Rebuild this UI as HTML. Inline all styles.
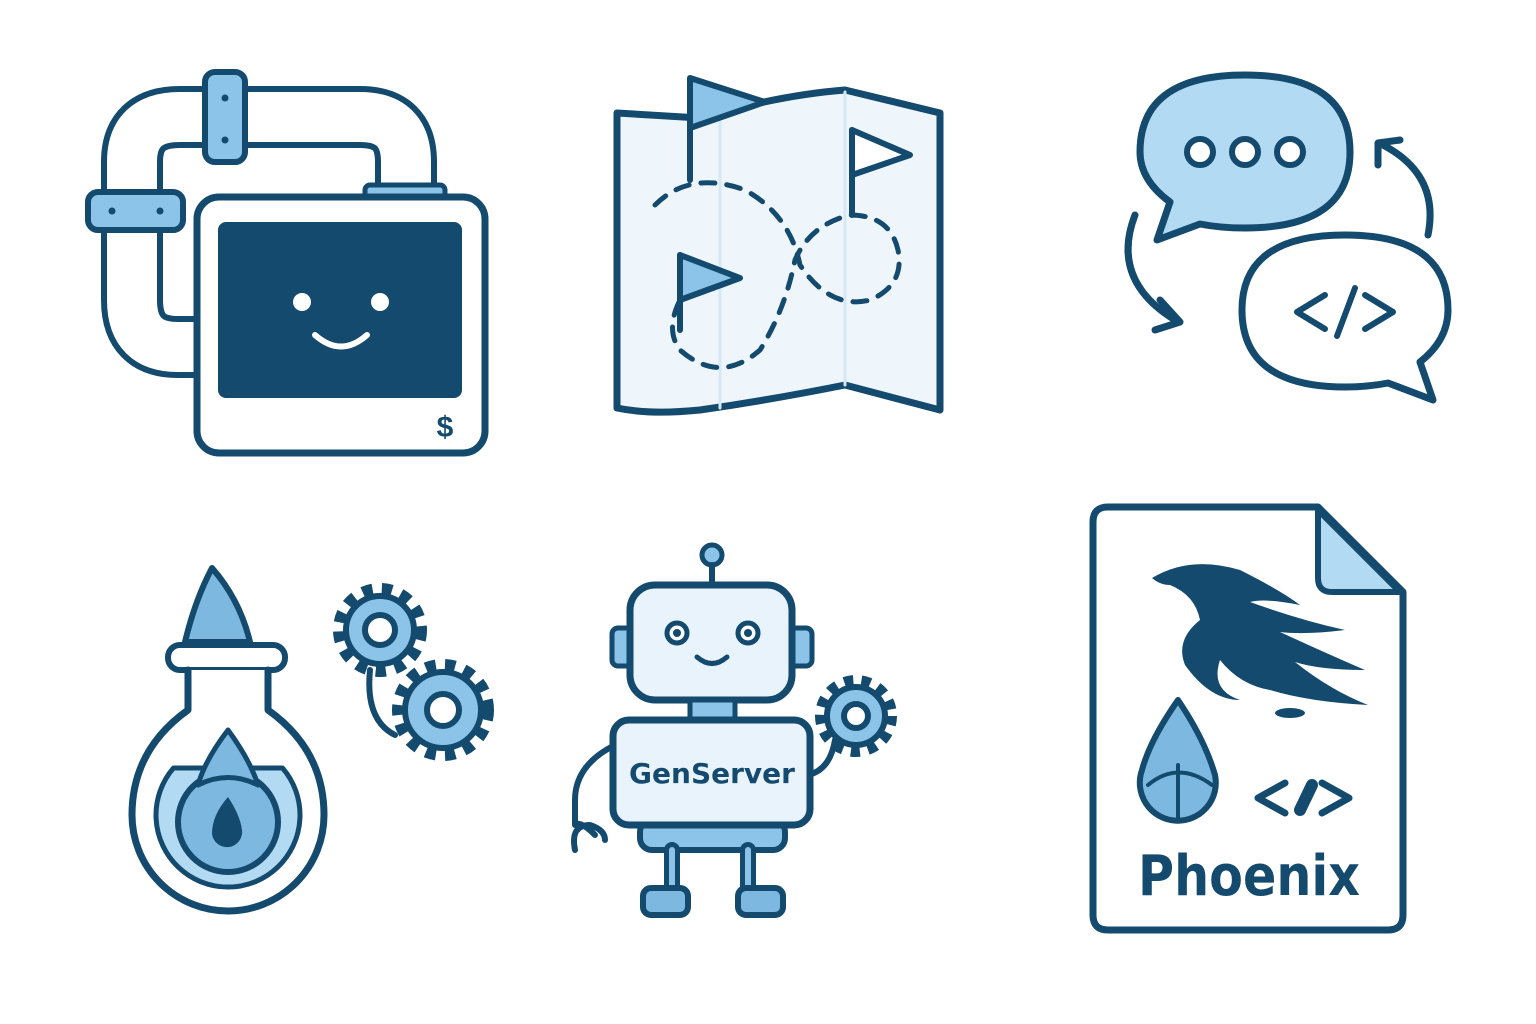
<!DOCTYPE html>
<html><head><meta charset="utf-8"><style>html,body{margin:0;padding:0;background:#fff}svg{display:block}</style></head>
<body>
<svg width="1536" height="1024" viewBox="0 0 1536 1024" xmlns="http://www.w3.org/2000/svg">
<g stroke="#134a6e" stroke-linecap="round" stroke-linejoin="round" fill="none">
<!-- Icon 1 -->
<path d="M200,347 H178 Q132,347 132,300 V162 Q132,117 180,117 H360 Q406,117 406,162 V205" stroke-width="62"/>
<path d="M200,347 H178 Q132,347 132,300 V162 Q132,117 180,117 H360 Q406,117 406,162 V205" stroke="#fff" stroke-width="50"/>
<rect x="205" y="72" width="40" height="90" rx="10" fill="#8cc3e8" stroke-width="6"/>
<circle cx="225" cy="98" r="3.5" fill="#134a6e" stroke="none"/><circle cx="225" cy="140" r="3.5" fill="#134a6e" stroke="none"/>
<rect x="88" y="192" width="95" height="38" rx="10" fill="#8cc3e8" stroke-width="6"/>
<circle cx="112" cy="211" r="3.5" fill="#134a6e" stroke="none"/><circle cx="160" cy="211" r="3.5" fill="#134a6e" stroke="none"/>
<rect x="365" y="185" width="80" height="14" rx="5" fill="#8cc3e8" stroke-width="5"/>
<rect x="197" y="197" width="288" height="256" rx="22" fill="#fff" stroke-width="7"/>
<rect x="218" y="222" width="244" height="176" rx="8" fill="#134a6e" stroke="none"/>
<circle cx="302" cy="302" r="9" fill="#fff" stroke="none"/><circle cx="380" cy="302" r="9" fill="#fff" stroke="none"/>
<path d="M315,335 Q341,358 367,335" stroke="#fff" stroke-width="6"/>
<text x="445" y="437" font-family="Liberation Sans,sans-serif" font-size="30" font-weight="bold" fill="#134a6e" stroke="none" text-anchor="middle">$</text>

<!-- Icon 2 map -->
<path d="M617,113 L700,118 Q780,95 845,90 L940,113 L940,410 L845,385 Q770,400 700,410 Q650,415 617,408 Z" fill="#eef6fc" stroke-width="7"/>
<path d="M720,118 V408" stroke="#d5e8f6" stroke-width="3"/><path d="M845,92 V385" stroke="#d5e8f6" stroke-width="3"/>
<path d="M690,180 V80" stroke-width="6"/><path d="M690,78 L765,102 L690,128 Z" fill="#8cc3e8" stroke-width="6"/>
<path d="M852,215 V130" stroke-width="6"/><path d="M852,130 L910,155 L852,175 Z" fill="#fff" stroke-width="6"/>
<path d="M680,330 V255" stroke-width="6"/><path d="M680,255 L740,278 L680,300 Z" fill="#8cc3e8" stroke-width="6"/>
<path d="M655,205 Q690,170 745,190 Q790,215 800,265 Q830,310 870,300 Q905,285 898,250 Q890,215 850,215 Q810,225 795,260 Q785,310 760,350 Q720,385 680,350 Q665,330 680,300" stroke-width="5" stroke-dasharray="14 12"/>

<!-- Icon 3 chat -->
<path d="M1170,202 Q1140,180 1140,152 Q1140,75 1245,75 Q1350,75 1350,152 Q1350,228 1245,228 Q1220,228 1200,224 L1157,240 Z" fill="#b3daf3" stroke-width="7"/>
<circle cx="1200" cy="152" r="13" fill="#fff" stroke-width="6"/><circle cx="1245" cy="152" r="13" fill="#fff" stroke-width="6"/><circle cx="1290" cy="152" r="13" fill="#fff" stroke-width="6"/>
<path d="M1420,362 Q1448,340 1448,310 Q1448,235 1345,235 Q1242,235 1242,310 Q1242,387 1345,387 Q1368,387 1388,383 L1433,400 Z" fill="#fff" stroke-width="7"/>
<path d="M1325,295 L1297,312 L1325,329 M1365,295 L1393,312 L1365,329 M1355,288 L1337,336" stroke-width="6"/>
<path d="M1135,215 Q1110,280 1175,320" stroke-width="7"/><path d="M1160,300 L1180,322 L1155,330" stroke-width="7"/>
<path d="M1428,235 Q1440,175 1383,145" stroke-width="7"/><path d="M1378,165 L1378,143 L1400,140" stroke-width="7"/>

<!-- Icon 4 flask -->
<path d="M185,642 Q195,600 212,568 Q240,600 250,642 Z" fill="#7cb8e0" stroke-width="6"/>
<rect x="168" y="645" width="117" height="25" rx="12" fill="#fff" stroke-width="6"/>
<path d="M188,670 V710 Q132,750 132,815 A96,96 0 0 0 324,815 Q324,750 268,710 V670" fill="#fff" stroke-width="7"/>
<path d="M173.5,768 H282.5 A72,72 0 1 1 173.5,768 Z" fill="#b3daf3" stroke-width="5"/>
<circle cx="228" cy="822" r="50" fill="#7cb8e0" stroke-width="6"/>
<path d="M228,730 Q205,760 198,785 Q228,770 258,785 Q250,760 228,730 Z" fill="#7cb8e0" stroke-width="5"/>
<path d="M228,797 Q240,815 242,830 A15,15 0 0 1 212,834 Q212,815 228,797 Z" fill="#134a6e" stroke="none"/>
<g transform="translate(380,630)"><circle r="40" stroke-width="14" stroke-dasharray="10 9" stroke-linecap="butt"/><circle r="34" fill="#8cc3e8" stroke-width="6"/><circle r="15" fill="#fff" stroke-width="6"/></g>
<g transform="translate(443,710)"><circle r="44" stroke-width="14" stroke-dasharray="10 9" stroke-linecap="butt"/><circle r="38" fill="#8cc3e8" stroke-width="6"/><circle r="16" fill="#fff" stroke-width="6"/></g>
<path d="M370,670 Q365,720 395,735" stroke-width="6"/>

<!-- Icon 5 robot -->
<circle cx="712" cy="555" r="10" fill="#8cc3e8" stroke-width="5"/><path d="M712,565 V585" stroke-width="6"/>
<rect x="612" y="628" width="22" height="38" rx="6" fill="#8cc3e8" stroke-width="5"/>
<rect x="790" y="628" width="22" height="38" rx="6" fill="#8cc3e8" stroke-width="5"/>
<rect x="630" y="585" width="162" height="115" rx="25" fill="#e8f3fb" stroke-width="7"/>
<circle cx="677" cy="633" r="10" fill="#fff" stroke-width="5"/><circle cx="677" cy="633" r="4" fill="#134a6e" stroke="none"/>
<circle cx="748" cy="633" r="10" fill="#fff" stroke-width="5"/><circle cx="748" cy="633" r="4" fill="#134a6e" stroke="none"/>
<path d="M697,657 Q712,670 727,657" stroke-width="5"/>
<rect x="690" y="700" width="45" height="20" fill="#8cc3e8" stroke-width="5"/>
<path d="M615,745 Q575,765 575,800 V825 Q580,820 595,835" stroke-width="6"/>
<path d="M575,850 Q570,825 590,825 Q605,830 605,840" stroke-width="6"/>
<path d="M808,775 Q830,770 835,740" stroke-width="6"/>
<g transform="translate(856,716)"><circle r="35" stroke-width="12" stroke-dasharray="9 8" stroke-linecap="butt"/><circle r="29" fill="#8cc3e8" stroke-width="6"/><circle r="12" fill="#fff" stroke-width="6"/></g>
<rect x="640" y="820" width="145" height="30" rx="12" fill="#8cc3e8" stroke-width="6"/>
<rect x="613" y="720" width="197" height="105" rx="16" fill="#e8f3fb" stroke-width="7"/>
<text x="712" y="783" font-family="DejaVu Sans,sans-serif" font-size="28" font-weight="bold" fill="#134a6e" stroke="none" text-anchor="middle">GenServer</text>
<path d="M672,850 V890 M748,850 V890" stroke-width="16"/><path d="M672,850 V890 M748,850 V890" stroke="#8cc3e8" stroke-width="6"/>
<rect x="643" y="888" width="45" height="27" rx="8" fill="#7cb8e0" stroke-width="6"/>
<rect x="738" y="888" width="45" height="27" rx="8" fill="#7cb8e0" stroke-width="6"/>

<!-- Icon 6 doc -->
<path d="M1093,522 Q1093,507 1108,507 H1318 L1403,592 V915 Q1403,930 1388,930 H1108 Q1093,930 1093,915 Z" fill="#fff" stroke-width="7"/>
<path d="M1318,510 V578 Q1318,592 1332,592 H1400 Z" fill="#b3daf3" stroke-width="6"/>
<g fill="#134a6e" stroke="none">
<path d="M1152,578 Q1190,555 1240,570 Q1280,590 1300,605 Q1265,598 1250,602 Q1300,620 1345,630 Q1305,635 1280,632 Q1330,655 1365,670 Q1320,670 1295,662 Q1330,690 1368,705 Q1310,702 1270,690 Q1240,685 1220,660 Q1210,690 1240,700 Q1210,700 1185,665 Q1175,640 1200,620 Q1195,595 1170,585 Q1160,585 1152,578 Z"/>
<ellipse cx="1290" cy="713" rx="15" ry="5"/>
</g>
<path d="M1178,700 Q1150,740 1142,770 A38,38 0 1 0 1215,775 Q1205,740 1178,700 Z" fill="#7cb8e0" stroke-width="6"/>
<path d="M1148,785 Q1178,760 1212,785 M1178,765 V818" stroke-width="4"/>
<path d="M1285,783 L1258,798 L1285,813 M1322,783 L1349,798 L1322,813" stroke-width="7"/>
<path d="M1300,810 L1312,785" stroke-width="12"/>
<text x="1138" y="895" textLength="222" lengthAdjust="spacingAndGlyphs" font-family="DejaVu Sans,sans-serif" font-size="56" font-weight="bold" fill="#134a6e" stroke="none">Phoenix</text>
</g>
</svg>
</body></html>
